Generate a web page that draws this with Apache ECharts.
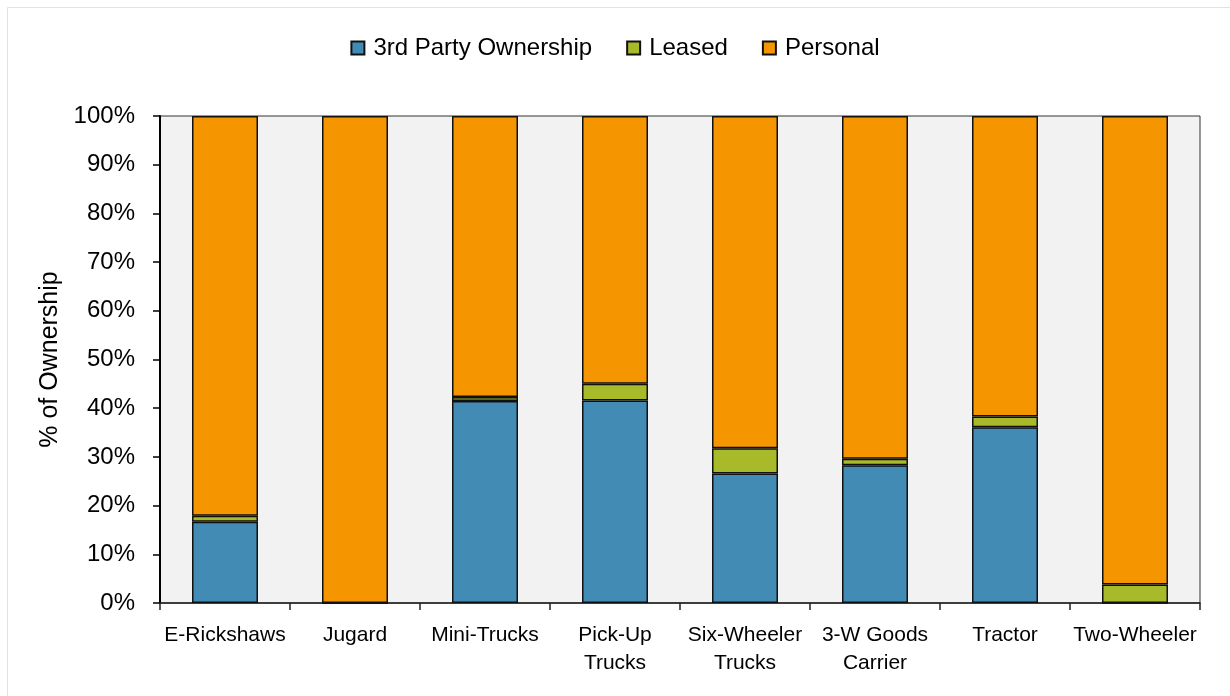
<!DOCTYPE html>
<html>
<head>
<meta charset="utf-8">
<style>
  html, body { margin: 0; padding: 0; background: #ffffff; }
  #chart { width: 1230px; height: 696px; }
</style>
<script src="https://cdn.jsdelivr.net/npm/echarts@6/dist/echarts.min.js"></script>
</head>
<body>
<div id="chart"></div>
<script>
// Vehicle segments and their ownership split (% of vehicles)
const categories = ['E-Rickshaws', 'Jugard', 'Mini-Trucks', 'Pick-Up\nTrucks', 'Six-Wheeler\nTrucks', '3-W Goods\nCarrier', 'Tractor', 'Two-Wheeler'];
const thirdParty = [16.7, 0, 41.5, 41.6, 26.6, 28.3, 36.1, 0];
const leased     = [1.2, 0, 0.8, 3.4, 5.2, 1.3, 2.2, 3.8];
const personal   = [82.1, 100, 57.7, 55.0, 68.2, 70.4, 61.7, 96.2];
const yTicks = [0, 10, 20, 30, 40, 50, 60, 70, 80, 90, 100];

const FONT = "'Liberation Sans', Arial, sans-serif";

const chart = echarts.init(document.getElementById('chart'), null, { renderer: 'canvas' });

function barSeries(name, data, color) {
  return {
    name: name,
    type: 'bar',
    stack: 'own',
    data: data,
    barWidth: 66,
    itemStyle: { color: color, borderColor: '#111111', borderWidth: 1.5 },
    emphasis: { disabled: true }
  };
}

chart.setOption({
  animation: false,
  textStyle: { fontFamily: FONT },
  graphic: [{
    type: 'rect',
    silent: true,
    shape: { x: 7.5, y: 7.5, width: 1240, height: 700 },
    style: { fill: 'none', stroke: '#e2e2e2', lineWidth: 1 }
  }],
  legend: {
    top: 31,
    left: 'center',
    icon: 'rect',
    itemWidth: 13,
    itemHeight: 13,
    itemGap: 34,
    textStyle: { fontFamily: FONT, fontSize: 24, color: '#000000', padding: [0, 0, 0, 4] },
    data: ['3rd Party Ownership', 'Leased', 'Personal']
  },
  grid: {
    left: 160,
    right: 30,
    top: 116,
    bottom: 93,
    show: true,
    backgroundColor: '#f2f2f2',
    borderColor: '#333333',
    borderWidth: 1
  },
  xAxis: {
    type: 'category',
    data: categories,
    axisLine: { lineStyle: { color: '#222222', width: 1.5 } },
    axisTick: { show: true, interval: 0, length: 7, alignWithLabel: false, lineStyle: { color: '#222222', width: 1.5 } },
    axisLabel: {
      interval: 0,
      margin: 18,
      fontFamily: FONT,
      fontSize: 21,
      lineHeight: 28,
      color: '#000000'
    }
  },
  yAxis: {
    type: 'value',
    min: 0,
    max: 100,
    interval: 10,
    name: '% of Ownership',
    nameLocation: 'middle',
    nameGap: 94,
    nameTextStyle: { fontFamily: FONT, fontSize: 25, color: '#000000' },
    axisLine: { show: true, lineStyle: { color: '#000000', width: 2 } },
    axisTick: { show: true, length: 7, lineStyle: { color: '#000000', width: 1.5 } },
    splitLine: { show: false },
    axisLabel: {
      margin: 25,
      fontFamily: FONT,
      fontSize: 24,
      color: '#000000',
      customValues: yTicks,
      formatter: function (v) { return v + '%'; }
    }
  },
  series: [
    barSeries('3rd Party Ownership', thirdParty, '#428bb4'),
    barSeries('Leased', leased, '#a8b92a'),
    barSeries('Personal', personal, '#f59500')
  ]
});
</script>
</body>
</html>
